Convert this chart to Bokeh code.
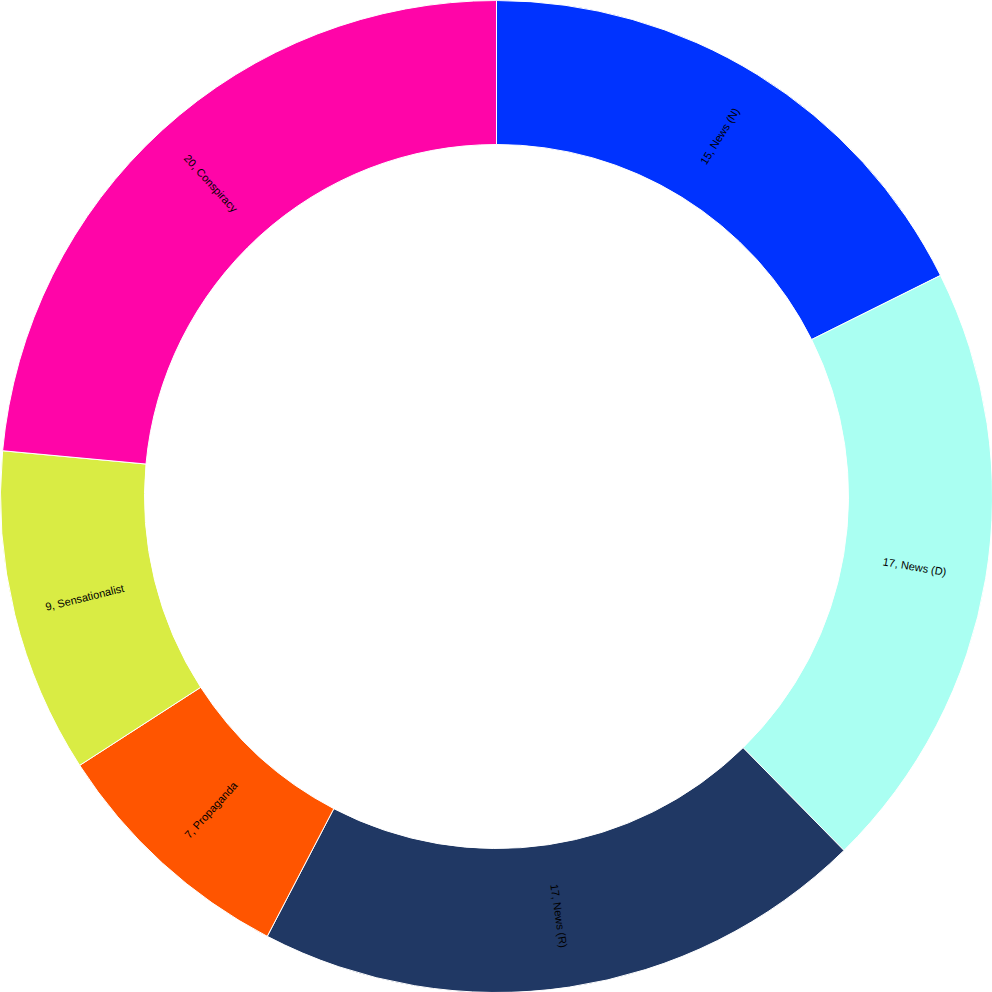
import math
from bokeh.plotting import figure
from bokeh.models import ColumnDataSource
from bokeh.core.properties import value
from bokeh.embed import file_html
from bokeh.resources import INLINE

categories = ["News (N)", "News (D)", "News (R)", "Propaganda", "Sensationalist", "Conspiracy"]
counts = [15, 17, 17, 7, 9, 20]
colors = ["#0033FF", "#AAFFF2", "#203864", "#FF5500", "#D9EC44", "#FF05A8"]

total = sum(counts)
starts, ends, lx, ly, rot, labels = [], [], [], [], [], []
cum = 0
R_IN, R_OUT = 352, 496
R_LAB = (R_IN + R_OUT) / 2
for c, n in zip(categories, counts):
    a0 = math.pi / 2 - 2 * math.pi * cum / total
    cum += n
    a1 = math.pi / 2 - 2 * math.pi * cum / total
    m = (a0 + a1) / 2
    starts.append(a0)
    ends.append(a1)
    lx.append(R_LAB * math.cos(m))
    ly.append(R_LAB * math.sin(m))
    r = m
    while r > math.pi:
        r -= 2 * math.pi
    while r < -math.pi:
        r += 2 * math.pi
    if r > math.pi / 2:
        r -= math.pi
    elif r < -math.pi / 2:
        r += math.pi
    rot.append(r)
    labels.append(f"{n}, {c}")

src = ColumnDataSource(dict(start=starts, end=ends, color=colors))
lsrc = ColumnDataSource(dict(x=lx, y=ly, angle=rot, text=labels))

p = figure(width=992, height=992, x_range=(-496, 496), y_range=(-496, 496),
           output_backend="svg", toolbar_location=None, min_border=0)
p.axis.visible = False
p.grid.visible = False
p.outline_line_color = None
p.background_fill_color = "white"

p.annular_wedge(x=0, y=0, inner_radius=R_IN, outer_radius=R_OUT,
                start_angle="start", end_angle="end", direction="clock",
                fill_color="color", line_color="white", line_width=1, source=src)
p.text(x="x", y="y", text="text", angle="angle", source=lsrc,
       text_align="center", text_baseline="middle", text_font_size="11px",
       text_font=value("Liberation Sans"), text_color="black")

open("out.html", "w").write(file_html(p, INLINE))
